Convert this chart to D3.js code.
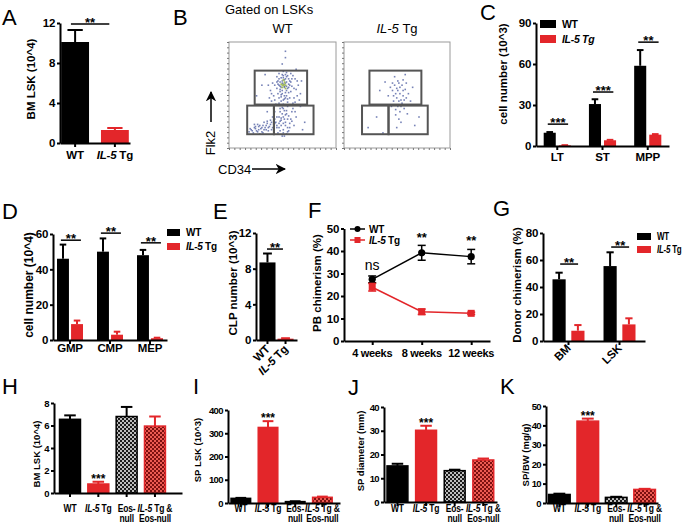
<!DOCTYPE html>
<html><head><meta charset="utf-8">
<script src="https://cdn.jsdelivr.net/npm/d3@7"></script>
<style>body{margin:0;background:#fff}svg{display:block}</style>
</head><body><script>
// ================= DATA =================
// A
const aCats = ["WT", "IL-5 Tg"];
const aMean = [10.1, 1.3];
const aErr = [1.2, 0.2];
const aTicks = [0, 4, 8, 12];
const aSig = "**";
const aSigAt = 11.9;
// B (flow cytometry, CD34 vs Flk2, % of plot range)
const flowSamples = ["WT", "IL-5 Tg"];
const flowGates = [[24, 73, 41, 73], [17, 42, 13, 40], [42, 79, 13, 40]];
const wtEvents = [[50,60],[52,62],[48,58],[54,57],[51,65],[47,63],[53,68],[49,55],[55,61],[46,60],[52,53],[50,67],[56,64],[44,57],[58,59],[49,70],[53,50],[45,52],[57,54],[51,47],[48,45],[54,44],[50,42],[47,38],[53,36],[49,33],[55,31],[51,28],[46,30],[52,25],[48,22],[54,20],[50,18],[45,15],[56,24],[58,35],[43,42],[60,48],[41,50],[62,56],[40,62],[61,66],[44,68],[57,71],[50,73],[38,55],[64,60],[59,43],[42,35],[57,28],[47,26],[53,14],[49,12],[44,20],[60,22],[62,30],[39,45],[66,52],[36,60],[67,64],[51,58],[49,62],[53,59],[47,56],[55,66],[45,64],[52,70],[48,51],[56,48],[46,48],[50,38],[54,40],[48,29],[52,32],[46,24],[55,17],[50,15],
  [50,61],[51,59],[49,64],[53,63],[47,59],[55,58],[52,66],[48,67],[54,69],[46,66],[50,69],[56,60],[45,61],[57,63],[44,63],[58,66],[49,52],[51,50],[53,55],[47,54],[55,53],[52,48],[48,49],[50,46],[54,47],[46,43],[52,41],[49,39],[51,36],[53,33],[47,35],[50,30],[54,28],[48,27],[52,22],[50,24],[46,20],[54,16],[51,12],[47,17],[56,20],[43,25],[58,26],[44,30],[59,38],[41,38],[61,44],[42,46],[63,50],[39,52],[60,57],[42,60],[59,69],[46,71],[53,72],[63,64],[37,48],[65,46],[40,30],[61,35],
  [20,18],[23,20],[25,17],[27,21],[29,19],[31,22],[33,20],[35,24],[37,21],[39,25],[22,15],[26,23],[30,16],[34,18],[38,27],[41,23],[24,21],[28,14],[32,25],[36,17],[18,16],[42,28],[21,17],[24,19],[26,16],[28,22],[30,20],[32,18],[34,22],[36,20],[38,23],[40,20],[42,24],[44,22],[19,19],[23,23],[27,18],[31,15],[35,26],[39,18],
  [52,92],[52,86],[49,80],[30,60],[66,40],[70,25],[25,50],[33,70],[62,75],[35,35],[68,18]];
const wtHot = [[50,60],[51,63],[49,58],[52,57],[50,65],[48,61],[51,61],[49,60],[52,60]];
const tgEvents = [[50,55],[52,58],[48,52],[55,50],[47,60],[53,46],[51,62],[45,55],[57,56],[49,48],[54,43],[50,40],[46,45],[56,38],[52,35],[48,32],[58,62],[43,58],[60,52],[51,28],[55,65],[47,68],[62,45],[44,40],[53,25],[59,33],[41,50],[64,58],[38,63],[57,70],[49,20],[30,30],[22,20],[36,15],[70,30],[66,22],[33,55],[52,52],[49,57],[54,60],[46,50],[51,45],[56,46],[53,40],[48,37],[55,55],[50,64],[58,48],[45,62]];
// C
const cGroups = ["LT", "ST", "MPP"];
const cWT = [9.7, 30.7, 58.7];
const cWTerr = [0.5, 3.5, 11.5];
const cTg = [0.5, 4.2, 8.3];
const cTgErr = [0.1, 0.3, 0.4];
const cTicks = [0, 30, 60, 90];
const cSig = ["***", "***", "**"];
const cSigAt = [16, 39.5, 76];
// D
const dGroups = ["GMP", "CMP", "MEP"];
const dWT = [46, 50, 48];
const dWTerr = [8, 7.5, 3];
const dTg = [9, 3, 1];
const dTgErr = [2, 1.7, 0.3];
const dTicks = [0, 20, 40, 60];
const dSig = ["**", "**", "**"];
const dSigAt = [56.5, 60.5, 55];
// E
const eCats = ["WT", "IL-5 Tg"];
const eMean = [8.7, 0.15];
const eErr = [1.0, 0.05];
const eTicks = [0, 4, 8, 12];
const eSig = "**";
const eSigAt = 10.2;
// F
const fTimes = ["4 weeks", "8 weeks", "12 weeks"];
const fWT = [27.4, 39.2, 37.5];
const fWTerr = [1.5, 3.3, 3.2];
const fTg = [23.9, 13, 12.3];
const fTgErr = [1.7, 1.2, 0.5];
const fTicks = [0, 10, 20, 30, 40, 50];
const fSig = ["ns", "**", "**"];
const fSigAt = [31.5, 43.8, 42.5];
// G
const gGroups = ["BM", "LSK"];
const gWT = [45.7, 55.5];
const gWTerr = [4.9, 10.2];
const gTg = [7.6, 12.3];
const gTgErr = [4.2, 4.5];
const gTicks = [0, 20, 40, 60, 80];
const gSig = ["**", "**"];
const gSigAt = [57, 69.6];
// H-K
const hkCats = ["WT", "IL-5 Tg", "Eos-null", "IL-5 Tg & Eos-null"];
const hkLabelLines = [["WT"], ["IL-5 Tg"], ["Eos-", "null"], ["IL-5 Tg &", "Eos-null"]];
const hMean = [6.55, 0.8, 6.8, 5.95];
const hErr = [0.35, 0.2, 0.85, 0.85];
const hTicks = [0, 2, 4, 6, 8];
const iMean = [20, 325, 6, 24.5];
const iErr = [2, 27, 1.5, 3];
const iTicks = [0, 100, 200, 300, 400];
const jMean = [15.2, 30.2, 13.2, 17.7];
const jErr = [0.9, 1.9, 0.4, 0.6];
const jTicks = [0, 10, 20, 30, 40];
const kMean = [4.4, 42.2, 2.9, 7.0];
const kErr = [0.4, 1.3, 0.3, 0.3];
const kTicks = [0, 10, 20, 30, 40, 50];
const hkSig = "***";

// ================= DRAWING =================
const FONT = "'Liberation Sans', Arial, Helvetica, sans-serif";
const RED = "#e3262a";
const svg = d3.select("body").append("svg").attr("width", 685).attr("height", 527)
  .style("font-family", FONT);
const defs = svg.append("defs");
function checker(id, bg, fg) {
  const p = defs.append("pattern").attr("id", id).attr("width", 4).attr("height", 4)
    .attr("patternUnits", "userSpaceOnUse");
  p.append("rect").attr("width", 4).attr("height", 4).attr("fill", bg);
  p.append("rect").attr("width", 2).attr("height", 2).attr("fill", fg);
  p.append("rect").attr("x", 2).attr("y", 2).attr("width", 2).attr("height", 2).attr("fill", fg);
}
checker("chkBlack", "#bdbdbd", "#1a1a1a");
checker("chkRed", "#ec5a52", "#7c1010");
defs.append("marker").attr("id", "arrow").attr("viewBox", "0 0 10 10").attr("refX", 9).attr("refY", 5)
  .attr("markerWidth", 7).attr("markerHeight", 7).attr("orient", "auto-start-reverse")
  .append("path").attr("d", "M0,0L10,5L0,10L3,5z").attr("fill", "#000");

function letter(t, x, y) {
  svg.append("text").attr("x", x).attr("y", y).text(t)
    .style("font-size", "22px").style("font-family", FONT).attr("fill", "#000");
}
function label(g, x, y, cat, fs, opts = {}) {
  const sx = opts.sx || 1;
  const t = g.append("text").attr("x", x / sx).attr("y", y)
    .attr("text-anchor", opts.anchor || "middle")
    .style("font-size", fs + "px").style("font-weight", opts.weight || "bold")
    .style("letter-spacing", (opts.ls || 0) + "px")
    .style("font-family", FONT).attr("fill", "#000");
  if (opts.rotate) t.attr("transform", `rotate(${opts.rotate},${x},${y})`);
  else if (sx !== 1) t.attr("transform", `scale(${sx},1)`);
  if (opts.allItalic) t.style("font-style", "italic");
  const m = cat.match(/^IL-5(.*)$/);
  if (m && !opts.allItalic) {
    t.append("tspan").style("font-style", "italic").text("IL-5");
    t.append("tspan").text(m[1].replace(/^ /, "\u00a0"));
  } else t.text(cat);
  return t;
}
function yTitle(g, text, x, y, fs) {
  g.append("text").attr("transform", `translate(${x},${y}) rotate(-90)`).attr("text-anchor", "middle")
    .style("font-size", fs + "px").style("font-weight", "bold").style("font-family", FONT).text(text);
}
function yAxis(g, y, x, ticks, fs, ls) {
  const a = g.append("g").attr("transform", `translate(${x},0)`)
    .call(d3.axisLeft(y).tickValues(ticks).tickSize(3).tickSizeOuter(0).tickPadding(2));
  a.select(".domain").attr("stroke-width", 2);
  a.selectAll(".tick line").attr("stroke-width", 2);
  a.selectAll(".tick text").style("font-size", fs + "px").style("font-weight", "bold")
    .style("letter-spacing", (ls === undefined ? -0.3 : ls) + "px").style("font-family", FONT).attr("fill", "#000");
}
function xAxis(g, scale, y) {
  const a = g.append("g").attr("transform", `translate(0,${y})`)
    .call(d3.axisBottom(scale).tickSize(4).tickSizeOuter(0).tickFormat(""));
  a.select(".domain").attr("stroke-width", 2);
  a.selectAll(".tick line").attr("stroke-width", 2);
}
function errUp(g, cx, y0, y1, cap, color) {
  g.append("line").attr("x1", cx).attr("x2", cx).attr("y1", y0).attr("y2", y1).attr("stroke", color).attr("stroke-width", 2);
  g.append("line").attr("x1", cx - cap / 2).attr("x2", cx + cap / 2).attr("y1", y1).attr("y2", y1).attr("stroke", color).attr("stroke-width", 2);
}
function sig(g, x0, x1, y, txt, fs) {
  g.append("line").attr("x1", x0).attr("x2", x1).attr("y1", y).attr("y2", y).attr("stroke", "#000").attr("stroke-width", 1.5);
  g.append("text").attr("x", (x0 + x1) / 2).attr("y", y + 3).attr("text-anchor", "middle")
    .style("font-size", fs + "px").style("font-weight", "bold").style("font-family", FONT).text(txt);
}

// simple bar chart
function simpleBars(cfg) {
  const g = svg.append("g");
  const y = d3.scaleLinear().domain([0, cfg.ticks[cfg.ticks.length - 1]]).range(cfg.yRange);
  const x = d3.scaleBand().domain(cfg.cats).range(cfg.xRange).paddingInner(cfg.pi).paddingOuter(cfg.po).align(cfg.align);
  const bw = x.bandwidth();
  g.selectAll("rect.bar").data(cfg.cats).join("rect").attr("class", "bar")
    .attr("x", d => x(d)).attr("width", bw)
    .attr("y", (d, i) => y(cfg.mean[i])).attr("height", (d, i) => y(0) - y(cfg.mean[i]))
    .attr("fill", (d, i) => cfg.fills[i])
    .attr("stroke", (d, i) => cfg.strokes ? cfg.strokes[i] : "none").attr("stroke-width", 1.5);
  cfg.cats.forEach((c, i) => errUp(g, x(c) + bw / 2, y(cfg.mean[i]), y(cfg.mean[i] + cfg.err[i]), bw * 0.55, cfg.errColors[i]));
  yAxis(g, y, cfg.xRange[0], cfg.ticks, cfg.fs, cfg.tls);
  xAxis(g, x, y(0));
  return { g, x, y, bw };
}
// grouped bar chart
function groupedBars(cfg) {
  const g = svg.append("g");
  const y = d3.scaleLinear().domain([0, cfg.ticks[cfg.ticks.length - 1]]).range(cfg.yRange);
  const x0 = d3.scaleBand().domain(cfg.groups).range(cfg.xRange).paddingInner(cfg.pi).paddingOuter(cfg.po);
  const x1 = d3.scaleBand().domain(["WT", "IL-5 Tg"]).range([0, x0.bandwidth()]).paddingInner(cfg.pi2);
  const bw = x1.bandwidth();
  const series = [{ k: "WT", v: cfg.wt, e: cfg.wtErr, c: "#000" }, { k: "IL-5 Tg", v: cfg.tg, e: cfg.tgErr, c: RED }];
  series.forEach(s => {
    g.selectAll(null).data(cfg.groups).join("rect")
      .attr("x", d => x0(d) + x1(s.k)).attr("width", bw)
      .attr("y", (d, i) => y(s.v[i])).attr("height", (d, i) => y(0) - y(s.v[i])).attr("fill", s.c);
    cfg.groups.forEach((grp, i) => errUp(g, x0(grp) + x1(s.k) + bw / 2, y(s.v[i]), y(s.v[i] + s.e[i]), bw * 0.55, s.c));
  });
  yAxis(g, y, cfg.xRange[0], cfg.ticks, cfg.fs);
  xAxis(g, x0, y(0));
  cfg.groups.forEach((grp, i) => sig(g, x0(grp) + x0.bandwidth() * cfg.sigL, x0(grp) + x0.bandwidth() * cfg.sigR, y(cfg.sigAt[i]), cfg.sig[i], 13));
  return { g, x0, y };
}
function legendBox(g, x, y, w, h, items, fs, gap, allItalic, sx) {
  items.forEach((it, i) => {
    g.append("rect").attr("x", x).attr("y", y + i * gap).attr("width", w).attr("height", h).attr("fill", it.c);
    label(g, x + w + 6, y + i * gap + h / 2 + fs * 0.36, it.t, fs, { anchor: "start", allItalic: allItalic && i === 1, ls: -0.3, sx: sx || 1 });
  });
}

// ---------- Panel A ----------
letter("A", 2, 25);
{
  const r = simpleBars({ cats: aCats, mean: aMean, err: aErr, ticks: aTicks, yRange: [143, 23], xRange: [60, 130],
    pi: 0.3, po: 0.03, align: 0.5, fills: ["#000", RED], errColors: ["#000", RED], fs: 11.5 });
  aCats.forEach(c => label(r.g, r.x(c) + r.bw / 2, 159, c, 11.5, { ls: -0.2 }));
  sig(r.g, r.x(aCats[0]) + r.bw * 0.35, r.x(aCats[1]) + r.bw * 0.3, r.y(aSigAt), aSig, 13);
  yTitle(r.g, "BM LSK (10^4)", 35, 79, 11.5);
}

// ---------- Panel B ----------
letter("B", 173, 25);
{
  const g = svg.append("g");
  g.append("text").attr("x", 225).attr("y", 14).text("Gated on LSKs").style("font-size", "13px");
  const boxes = [[229, 336], [344, 450]];
  const yB = d3.scaleLinear().domain([0, 100]).range([148, 42]);
  const evts = [wtEvents, tgEvents];
  flowSamples.forEach((s, si) => {
    const xB = d3.scaleLinear().domain([0, 100]).range(boxes[si]);
    label(g, (boxes[si][0] + boxes[si][1]) / 2, 33, s, 13, { weight: "normal" });
    g.append("rect").attr("x", xB(0)).attr("y", yB(100)).attr("width", xB(100) - xB(0)).attr("height", yB(0) - yB(100))
      .attr("fill", "none").attr("stroke", "#9a9a9a").attr("stroke-width", 1);
    const la = g.append("g").attr("transform", `translate(${xB(0)},0)`)
      .call(d3.axisLeft(yB).ticks(20).tickSize(2).tickFormat(""));
    la.select(".domain").remove(); la.selectAll("line").attr("stroke", "#777");
    const ba = g.append("g").attr("transform", `translate(0,${yB(0)})`)
      .call(d3.axisBottom(xB).ticks(25).tickSize(2).tickFormat(""));
    ba.select(".domain").remove(); ba.selectAll("line").attr("stroke", "#777");
    g.selectAll(null).data(evts[si]).join("rect")
      .attr("x", d => xB(d[0])).attr("y", d => yB(d[1])).attr("width", 1.6).attr("height", 1.6)
      .attr("fill", "#3d4f98").attr("opacity", 0.7);
    if (si === 0) g.selectAll(null).data(wtHot).join("rect")
      .attr("x", d => xB(d[0])).attr("y", d => yB(d[1])).attr("width", 1.8).attr("height", 1.8).attr("fill", "#a4bd5c");
    g.selectAll(null).data(flowGates).join("rect")
      .attr("x", d => xB(d[0])).attr("y", d => yB(d[3])).attr("width", d => xB(d[1]) - xB(d[0])).attr("height", d => yB(d[2]) - yB(d[3]))
      .attr("fill", "none").attr("stroke", "#555").attr("stroke-width", 2);
  });
  g.append("text").attr("transform", "translate(215,143) rotate(-90)").attr("text-anchor", "middle")
    .style("font-size", "13px").text("Flk2");
  g.append("line").attr("x1", 211).attr("x2", 211).attr("y1", 122).attr("y2", 92).attr("stroke", "#000").attr("stroke-width", 1.5).attr("marker-end", "url(#arrow)");
  g.append("text").attr("x", 218).attr("y", 174).style("font-size", "13px").text("CD34");
  g.append("line").attr("x1", 252).attr("x2", 285).attr("y1", 169).attr("y2", 169).attr("stroke", "#000").attr("stroke-width", 1.5).attr("marker-end", "url(#arrow)");
}

// ---------- Panel C ----------
letter("C", 480, 20);
{
  const r = groupedBars({ groups: cGroups, wt: cWT, wtErr: cWTerr, tg: cTg, tgErr: cTgErr, ticks: cTicks,
    yRange: [146, 23], xRange: [536, 669], pi: 0.4, po: 0.17, pi2: 0.2, fs: 11.5,
    sig: cSig, sigAt: cSigAt, sigL: 0.15, sigR: 0.9 });
  cGroups.forEach(c => label(r.g, r.x0(c) + r.x0.bandwidth() / 2, 161, c, 11.5, { ls: -0.2 }));
  legendBox(r.g, 540, 20, 16, 8, [{ t: "WT", c: "#000" }, { t: "IL-5 Tg", c: RED }], 10.5, 15, true);
  yTitle(r.g, "cell number (10^3)", 507, 74, 11.5);
}

// ---------- Panel D ----------
letter("D", 2, 219);
{
  const r = groupedBars({ groups: dGroups, wt: dWT, wtErr: dWTerr, tg: dTg, tgErr: dTgErr, ticks: dTicks,
    yRange: [340, 234], xRange: [53, 167], pi: 0.35, po: 0.1, pi2: 0.15, fs: 11.5,
    sig: dSig, sigAt: dSigAt, sigL: 0.15, sigR: 0.92 });
  dGroups.forEach(c => label(r.g, r.x0(c) + r.x0.bandwidth() / 2, 352, c, 11.5, { ls: -0.2 }));
  legendBox(r.g, 167, 229, 13, 7, [{ t: "WT", c: "#000" }, { t: "IL-5 Tg", c: RED }], 10, 14, false);
  yTitle(r.g, "cell number (10^4)", 33, 285, 12);
}

// ---------- Panel E ----------
letter("E", 213, 219);
{
  const r = simpleBars({ cats: eCats, mean: eMean, err: eErr, ticks: eTicks, yRange: [340, 233], xRange: [256, 297],
    pi: 0.11, po: 0.19, align: 0.5, fills: ["#000", RED], errColors: ["#000", RED], fs: 11.5 });
  eCats.forEach(c => label(r.g, r.x(c) + r.bw / 2 + 3, 350, c, 11.5, { anchor: "end", rotate: -45, ls: -0.2 }));
  sig(r.g, r.x(eCats[0]) + r.bw * 0.47, r.x(eCats[1]) + r.bw * 0.34, r.y(eSigAt), eSig, 13);
  yTitle(r.g, "CLP number (10^3)", 237, 283, 11.5);
}

// ---------- Panel F ----------
letter("F", 308, 218);
{
  const g = svg.append("g");
  const y = d3.scaleLinear().domain([0, 50]).range([341, 228.5]);
  const x = d3.scalePoint().domain(fTimes).range([344, 490]).padding(0.475).align(0.6);
  const line = d3.line().x((d, i) => x(fTimes[i])).y(d => y(d));
  const series = [{ v: fWT, e: fWTerr, c: "#000", m: "circle" }, { v: fTg, e: fTgErr, c: RED, m: "square" }];
  series.forEach(s => {
    g.append("path").attr("d", line(s.v)).attr("fill", "none").attr("stroke", s.c).attr("stroke-width", 1.5);
    fTimes.forEach((t, i) => {
      const cx = x(t);
      g.append("line").attr("x1", cx).attr("x2", cx).attr("y1", y(s.v[i] - s.e[i])).attr("y2", y(s.v[i] + s.e[i])).attr("stroke", s.c).attr("stroke-width", 1.5);
      [s.v[i] - s.e[i], s.v[i] + s.e[i]].forEach(vv => g.append("line").attr("x1", cx - 4).attr("x2", cx + 4).attr("y1", y(vv)).attr("y2", y(vv)).attr("stroke", s.c).attr("stroke-width", 1.5));
    });
    if (s.m === "circle") g.selectAll(null).data(s.v).join("circle").attr("cx", (d, i) => x(fTimes[i])).attr("cy", d => y(d)).attr("r", 3.6).attr("fill", s.c);
    else g.selectAll(null).data(s.v).join("rect").attr("x", (d, i) => x(fTimes[i]) - 3.5).attr("y", d => y(d) - 3.5).attr("width", 7).attr("height", 7).attr("fill", s.c);
  });
  yAxis(g, y, 344, fTicks, 11.5);
  xAxis(g, x, y(0));
  fTimes.forEach(t => label(g, x(t), 357, t, 11, { ls: -0.3 }));
  fTimes.forEach((t, i) => g.append("text").attr("x", x(t)).attr("y", y(fSigAt[i])).attr("text-anchor", "middle")
    .style("font-size", (fSig[i] === "ns" ? 14 : 13) + "px").style("font-weight", fSig[i] === "ns" ? "normal" : "bold").text(fSig[i]));
  // legend
  g.append("line").attr("x1", 350).attr("x2", 365).attr("y1", 229).attr("y2", 229).attr("stroke", "#000").attr("stroke-width", 1.5);
  g.append("circle").attr("cx", 357.5).attr("cy", 229).attr("r", 3).attr("fill", "#000");
  label(g, 369, 233, "WT", 10, { anchor: "start", ls: -0.3 });
  g.append("line").attr("x1", 350).attr("x2", 365).attr("y1", 240).attr("y2", 240).attr("stroke", RED).attr("stroke-width", 1.5);
  g.append("rect").attr("x", 354.5).attr("y", 237).attr("width", 6).attr("height", 6).attr("fill", RED);
  label(g, 369, 244, "IL-5 Tg", 10, { anchor: "start", ls: -0.3 });
  yTitle(g, "PB chimerism (%)", 321, 283, 11.5);
}

// ---------- Panel G ----------
letter("G", 493, 216);
{
  const r = groupedBars({ groups: gGroups, wt: gWT, wtErr: gWTerr, tg: gTg, tgErr: gTgErr, ticks: gTicks,
    yRange: [341, 233], xRange: [543, 645], pi: 0.373, po: 0.186, pi2: 0.3, fs: 11.5,
    sig: gSig, sigAt: gSigAt, sigL: 0.24, sigR: 0.8 });
  gGroups.forEach(c => label(r.g, r.x0(c) + r.x0.bandwidth() / 2 + 3, 349, c, 11.5, { anchor: "end", rotate: -45, ls: -0.2 }));
  legendBox(r.g, 637, 233, 14, 7, [{ t: "WT", c: "#000" }, { t: "IL-5 Tg", c: RED }], 10, 13, false, 0.8);
  yTitle(r.g, "Donor chimerism (%)", 521, 285, 11.5);
}

// ---------- Panels H-K ----------
const hkFills = ["#000", RED, "url(#chkBlack)", "url(#chkRed)"];
const hkStrokes = ["#000", RED, "#000", RED];
const hkPanels = [
  { L: "H", lx: 2, ly: 394, mean: hMean, err: hErr, ticks: hTicks, yRange: [493, 403], xRange: [54, 182], pi: 0.26, po: 0.39, align: 0.25, title: "BM LSK (10^4)", tx: 40, ty: 454 },
  { L: "I", lx: 193, ly: 394, mean: iMean, err: iErr, ticks: iTicks, yRange: [503, 410], xRange: [228, 340], pi: 0.28, po: 0.2, align: 0.28, title: "SP LSK (10^3)", tx: 201, ty: 450 },
  { L: "J", lx: 348, ly: 395, mean: jMean, err: jErr, ticks: jTicks, yRange: [502, 407], xRange: [384, 497], pi: 0.27, po: 0.11, align: 0.48, title: "SP diameter (mm)", tx: 364, ty: 451 },
  { L: "K", lx: 500, ly: 394, mean: kMean, err: kErr, ticks: kTicks, yRange: [503, 406], xRange: [546, 658], pi: 0.24, po: 0.09, align: 0.5, title: "SP/BW (mg/g)", tx: 529, ty: 455 }
];
hkPanels.forEach(p => {
  letter(p.L, p.lx, p.ly);
  const r = simpleBars({ cats: hkCats, mean: p.mean, err: p.err, ticks: p.ticks, yRange: p.yRange, xRange: p.xRange,
    pi: p.pi, po: p.po, align: p.align, fills: hkFills, strokes: hkStrokes, errColors: hkStrokes, fs: 9.5, tls: -0.6 });
  hkCats.forEach((c, i) => hkLabelLines[i].forEach((ln, li) => label(r.g, r.x(c) + r.bw / 2, 512 + li * 10.5, ln, 10, { ls: -0.2, sx: 0.85 })));
  const ci = 1;
  r.g.append("text").attr("x", r.x(hkCats[ci]) + r.bw / 2).attr("y", r.y(p.mean[ci] + p.err[ci]) + 1)
    .attr("text-anchor", "middle").style("font-size", "12px").style("font-weight", "bold").text(hkSig);
  yTitle(r.g, p.title, p.tx, p.ty, 9.5);
});
</script></body></html>
